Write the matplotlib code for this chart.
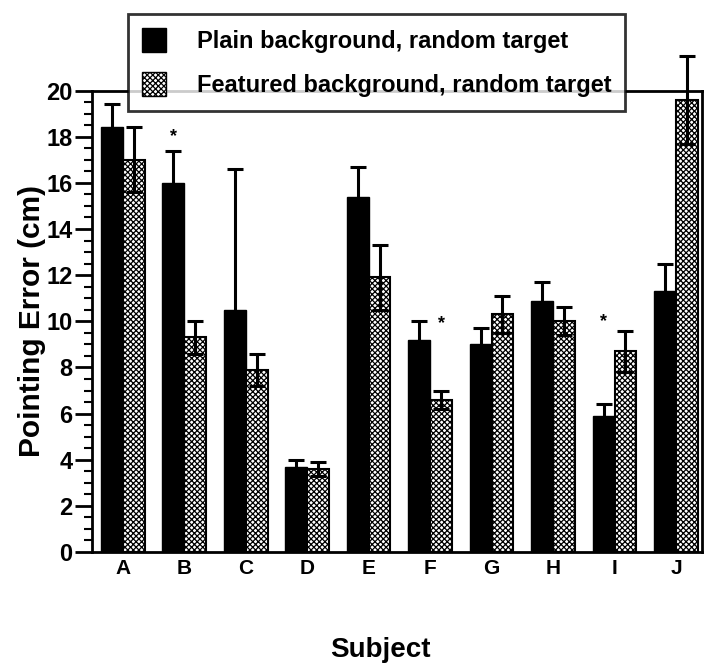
import matplotlib
matplotlib.use("Agg")
import matplotlib.pyplot as plt
import numpy as np
from matplotlib.patches import Patch

subjects = ["A", "B", "C", "D", "E", "F", "G", "H", "I", "J"]
plain = [18.4, 16.0, 10.5, 3.7, 15.4, 9.2, 9.0, 10.9, 5.9, 11.3]
plain_err = [1.0, 1.4, 6.1, 0.3, 1.3, 0.8, 0.7, 0.8, 0.5, 1.2]
featured = [17.0, 9.3, 7.9, 3.6, 11.9, 6.6, 10.3, 10.0, 8.7, 19.6]
featured_err = [1.4, 0.7, 0.7, 0.3, 1.4, 0.4, 0.8, 0.6, 0.9, 1.9]
star_subject = ["B", "F", "I"]
star_series = ["plain", "featured", "plain"]
star_y = [18.0, 9.9, 10.0]

plt.rcParams['font.family'] = ['Liberation Sans', 'DejaVu Sans']
plt.rcParams['hatch.linewidth'] = 0.9

fig = plt.figure(figsize=(7.05, 6.63), dpi=100)
ax = fig.add_axes([0.1305, 0.1674, 0.865, 0.696])

x = np.arange(len(subjects))
w = 0.355
ekw = dict(ecolor='black', elinewidth=2.2, capsize=6, capthick=2.2)
b1 = ax.bar(x - w/2, plain, w, color='black', edgecolor='black', linewidth=1.0,
            yerr=plain_err, error_kw=ekw)
b2 = ax.bar(x + w/2, featured, w, color='white', edgecolor='black', hatch='xxxxxx', linewidth=1.5,
            yerr=featured_err, error_kw=ekw)
for cont in (b1, b2):
    for art in cont.errorbar.lines:
        if isinstance(art, tuple):
            for a in art:
                a.set_clip_on(False)
        elif art is not None:
            art.set_clip_on(False)

for s, ser, yv in zip(star_subject, star_series, star_y):
    i = subjects.index(s)
    xs = i - w/2 if ser == "plain" else i + w/2
    ax.text(xs, yv, "*", ha='center', va='center', fontsize=13, fontweight='bold')

ax.set_xlim(-0.5, 9.42)
ax.set_ylim(0, 20)
ax.set_yticks(np.arange(0, 21, 2))
ax.set_yticks(np.arange(0, 20.1, 0.5), minor=True)
ax.set_xticks(x)
ax.set_xticklabels(subjects, fontweight='bold')
ax.tick_params(axis='x', length=0, labelsize=15, pad=5)
ax.tick_params(axis='y', which='major', length=12, width=2, labelsize=17, pad=2)
ax.tick_params(axis='y', which='minor', length=6, width=1.5)
for lab in ax.get_yticklabels():
    lab.set_fontweight('bold')
for sp in ax.spines.values():
    sp.set_linewidth(2)

ax.set_ylabel("Pointing Error (cm)", fontsize=21.5, fontweight='bold', labelpad=0)
fig.text(0.54, 0.02, "Subject", ha='center', va='center', fontsize=20, fontweight='bold')

handles = [Patch(facecolor='black', edgecolor='black', label='Plain background, random target'),
           Patch(facecolor='white', edgecolor='black', hatch='xxxxxx', label='Featured background, random target')]
leg = fig.legend(handles=handles, loc='upper left', bbox_to_anchor=(0.1816, 0.979),
                 prop=dict(size=17, weight='bold'), frameon=True, fancybox=False, edgecolor='black',
                 handlelength=1.0, handleheight=1.2, handletextpad=1.3,
                 labelspacing=0.8, borderpad=0.6, borderaxespad=0)
leg.get_frame().set_linewidth(2)
leg.set_zorder(10)

fig.savefig("out.png", dpi=100)
